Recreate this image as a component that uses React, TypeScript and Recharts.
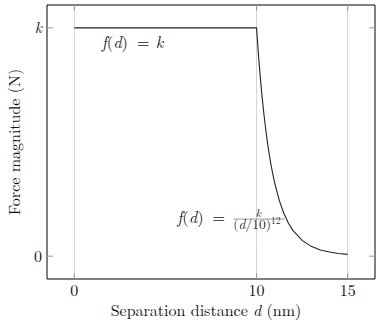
import React from 'react';
import { LineChart, Line, XAxis, YAxis, ReferenceLine, ReferenceDot } from 'recharts';

const distance = [0, 10, 10.1, 10.2, 10.3, 10.4, 10.5, 10.6, 10.7, 10.8, 10.9, 11, 11.25, 11.5, 11.75, 12, 12.5, 13, 13.5, 14, 14.5, 15];
const force = [1, 1, 0.887, 0.788, 0.701, 0.625, 0.557, 0.497, 0.444, 0.397, 0.356, 0.319, 0.243, 0.187, 0.144, 0.112, 0.069, 0.043, 0.027, 0.018, 0.012, 0.008];
const xTicks = [0, 10, 15];
const yTicks = [0, 1];
const yTickLabels = ['0', 'k'];
const xDomain = [-1.5, 16.5];
const yDomain = [-0.1, 1.1];
const constLabelPos = { d: 1.5, f: 0.913 };
const decayLabelPos = { d: 5.65, f: 0.145 };

const data = distance.map((d, i) => ({ d, f: force[i] }));

const FONT = "'Latin Modern Roman'";
const TXT = '#111';
const fs = (size: number, extra: any = {}) => ({ fontFamily: FONT, fontSize: size, ...extra });
const IT = { fontStyle: 'italic' };

const YTick = (props: any) => {
  const { x, y, payload } = props;
  const idx = yTicks.indexOf(payload.value);
  const label = yTickLabels[idx] ?? String(payload.value);
  return (
    <text x={x} y={y} dy="0.35em" textAnchor="end" fill={TXT}
      style={fs(16, { fontStyle: label === 'k' ? 'italic' : 'normal' })}>{label}</text>
  );
};

const XTick = (props: any) => {
  const { x, y, payload } = props;
  return (
    <text x={x} y={y} dy="0.72em" textAnchor="middle" fill={TXT} style={fs(16)}>{payload.value}</text>
  );
};

const Empty = () => <g />;

const FD = ({ x, y }: { x: number; y: number }) => (
  <>
    <text x={x} y={y} style={fs(16.5)}>
      <tspan style={IT}>f</tspan>(<tspan style={IT}>d</tspan>)
    </text>
    <text x={x + 35} y={y} style={fs(16.5)}>=</text>
  </>
);

const ConstLabel = (props: any) => {
  const vb = props.viewBox || {};
  const x = vb.x + (vb.width || 0) / 2;
  const y = vb.y + (vb.height || 0) / 2;
  return (
    <g fill="#222">
      <FD x={x} y={y} />
      <text x={x + 54} y={y} style={fs(16.5, IT)}>k</text>
    </g>
  );
};

const DecayLabel = (props: any) => {
  const vb = props.viewBox || {};
  const x = vb.x + (vb.width || 0) / 2;
  const y = vb.y + (vb.height || 0) / 2;
  return (
    <g fill="#222">
      <FD x={x} y={y} />
      <text x={x + 81} y={y - 6.5} textAnchor="middle" style={fs(11.5, IT)}>k</text>
      <line x1={x + 56} x2={x + 107} y1={y - 4} y2={y - 4} stroke="#555" strokeWidth={0.6} />
      <text x={x + 56} y={y + 6} style={fs(13.5)}>
        (<tspan style={IT}>d</tspan>/10)<tspan style={{ fontSize: 9.5 }} dy={-5}>12</tspan>
      </text>
    </g>
  );
};

const YAxisLabel = (props: any) => {
  const vb = props.viewBox || {};
  const cx = 14;
  const cy = vb.y + vb.height / 2;
  return (
    <text x={cx} y={cy} transform={`rotate(-90, ${cx}, ${cy})`} textAnchor="middle" dy="0.35em"
      fill={TXT} style={fs(16)}>Force magnitude (N)</text>
  );
};

const XAxisLabel = () => {
  return (
    <text x={206} y={316} textAnchor="middle" fill={TXT} style={fs(16)}>
      Separation distance <tspan style={IT}>d</tspan> (nm)
    </text>
  );
};

export default function App() {
  return (
    <div style={{ position: 'absolute', left: 0, top: 0, background: '#fff' }}>
      <LineChart width={377} height={322} data={data} margin={{ top: 4, right: 1, left: 0, bottom: 0 }}>
        <XAxis dataKey="d" type="number" domain={xDomain} ticks={xTicks} allowDataOverflow
          height={43} tickSize={-6} tickMargin={11} tick={<XTick />}
          axisLine={{ stroke: '#000', strokeWidth: 1 }} tickLine={{ stroke: '#999' }}
          label={<XAxisLabel />} />
        <XAxis xAxisId="t" dataKey="d" type="number" orientation="top" domain={xDomain} ticks={xTicks} allowDataOverflow
          height={1} tickSize={-6} tickMargin={0} tick={<Empty />}
          axisLine={{ stroke: '#000', strokeWidth: 1 }} tickLine={{ stroke: '#999' }} />
        <YAxis type="number" domain={yDomain} ticks={yTicks} allowDataOverflow width={47}
          tickSize={-6} tickMargin={11} tick={<YTick />}
          axisLine={{ stroke: '#000', strokeWidth: 1 }} tickLine={{ stroke: '#999' }}
          label={<YAxisLabel />} />
        <YAxis yAxisId="r" type="number" orientation="right" domain={yDomain} ticks={yTicks} allowDataOverflow width={1}
          tickSize={-6} tickMargin={0} tick={<Empty />}
          axisLine={{ stroke: '#000', strokeWidth: 1 }} tickLine={{ stroke: '#999' }} />
        {xTicks.map((v) => (
          <ReferenceLine key={v} x={v} stroke="#d4d4d4" strokeWidth={1} />
        ))}
        <Line dataKey="f" type="linear" stroke="#222" strokeWidth={1.1} dot={false} isAnimationActive={false} />
        <Line dataKey="f" xAxisId="t" yAxisId="r" type="linear" stroke="none" dot={false} isAnimationActive={false} legendType="none" />
        <ReferenceDot x={constLabelPos.d} y={constLabelPos.f} r={0.01} fill="none" stroke="none" label={<ConstLabel />} />
        <ReferenceDot x={decayLabelPos.d} y={decayLabelPos.f} r={0.01} fill="none" stroke="none" label={<DecayLabel />} />
      </LineChart>
    </div>
  );
}
